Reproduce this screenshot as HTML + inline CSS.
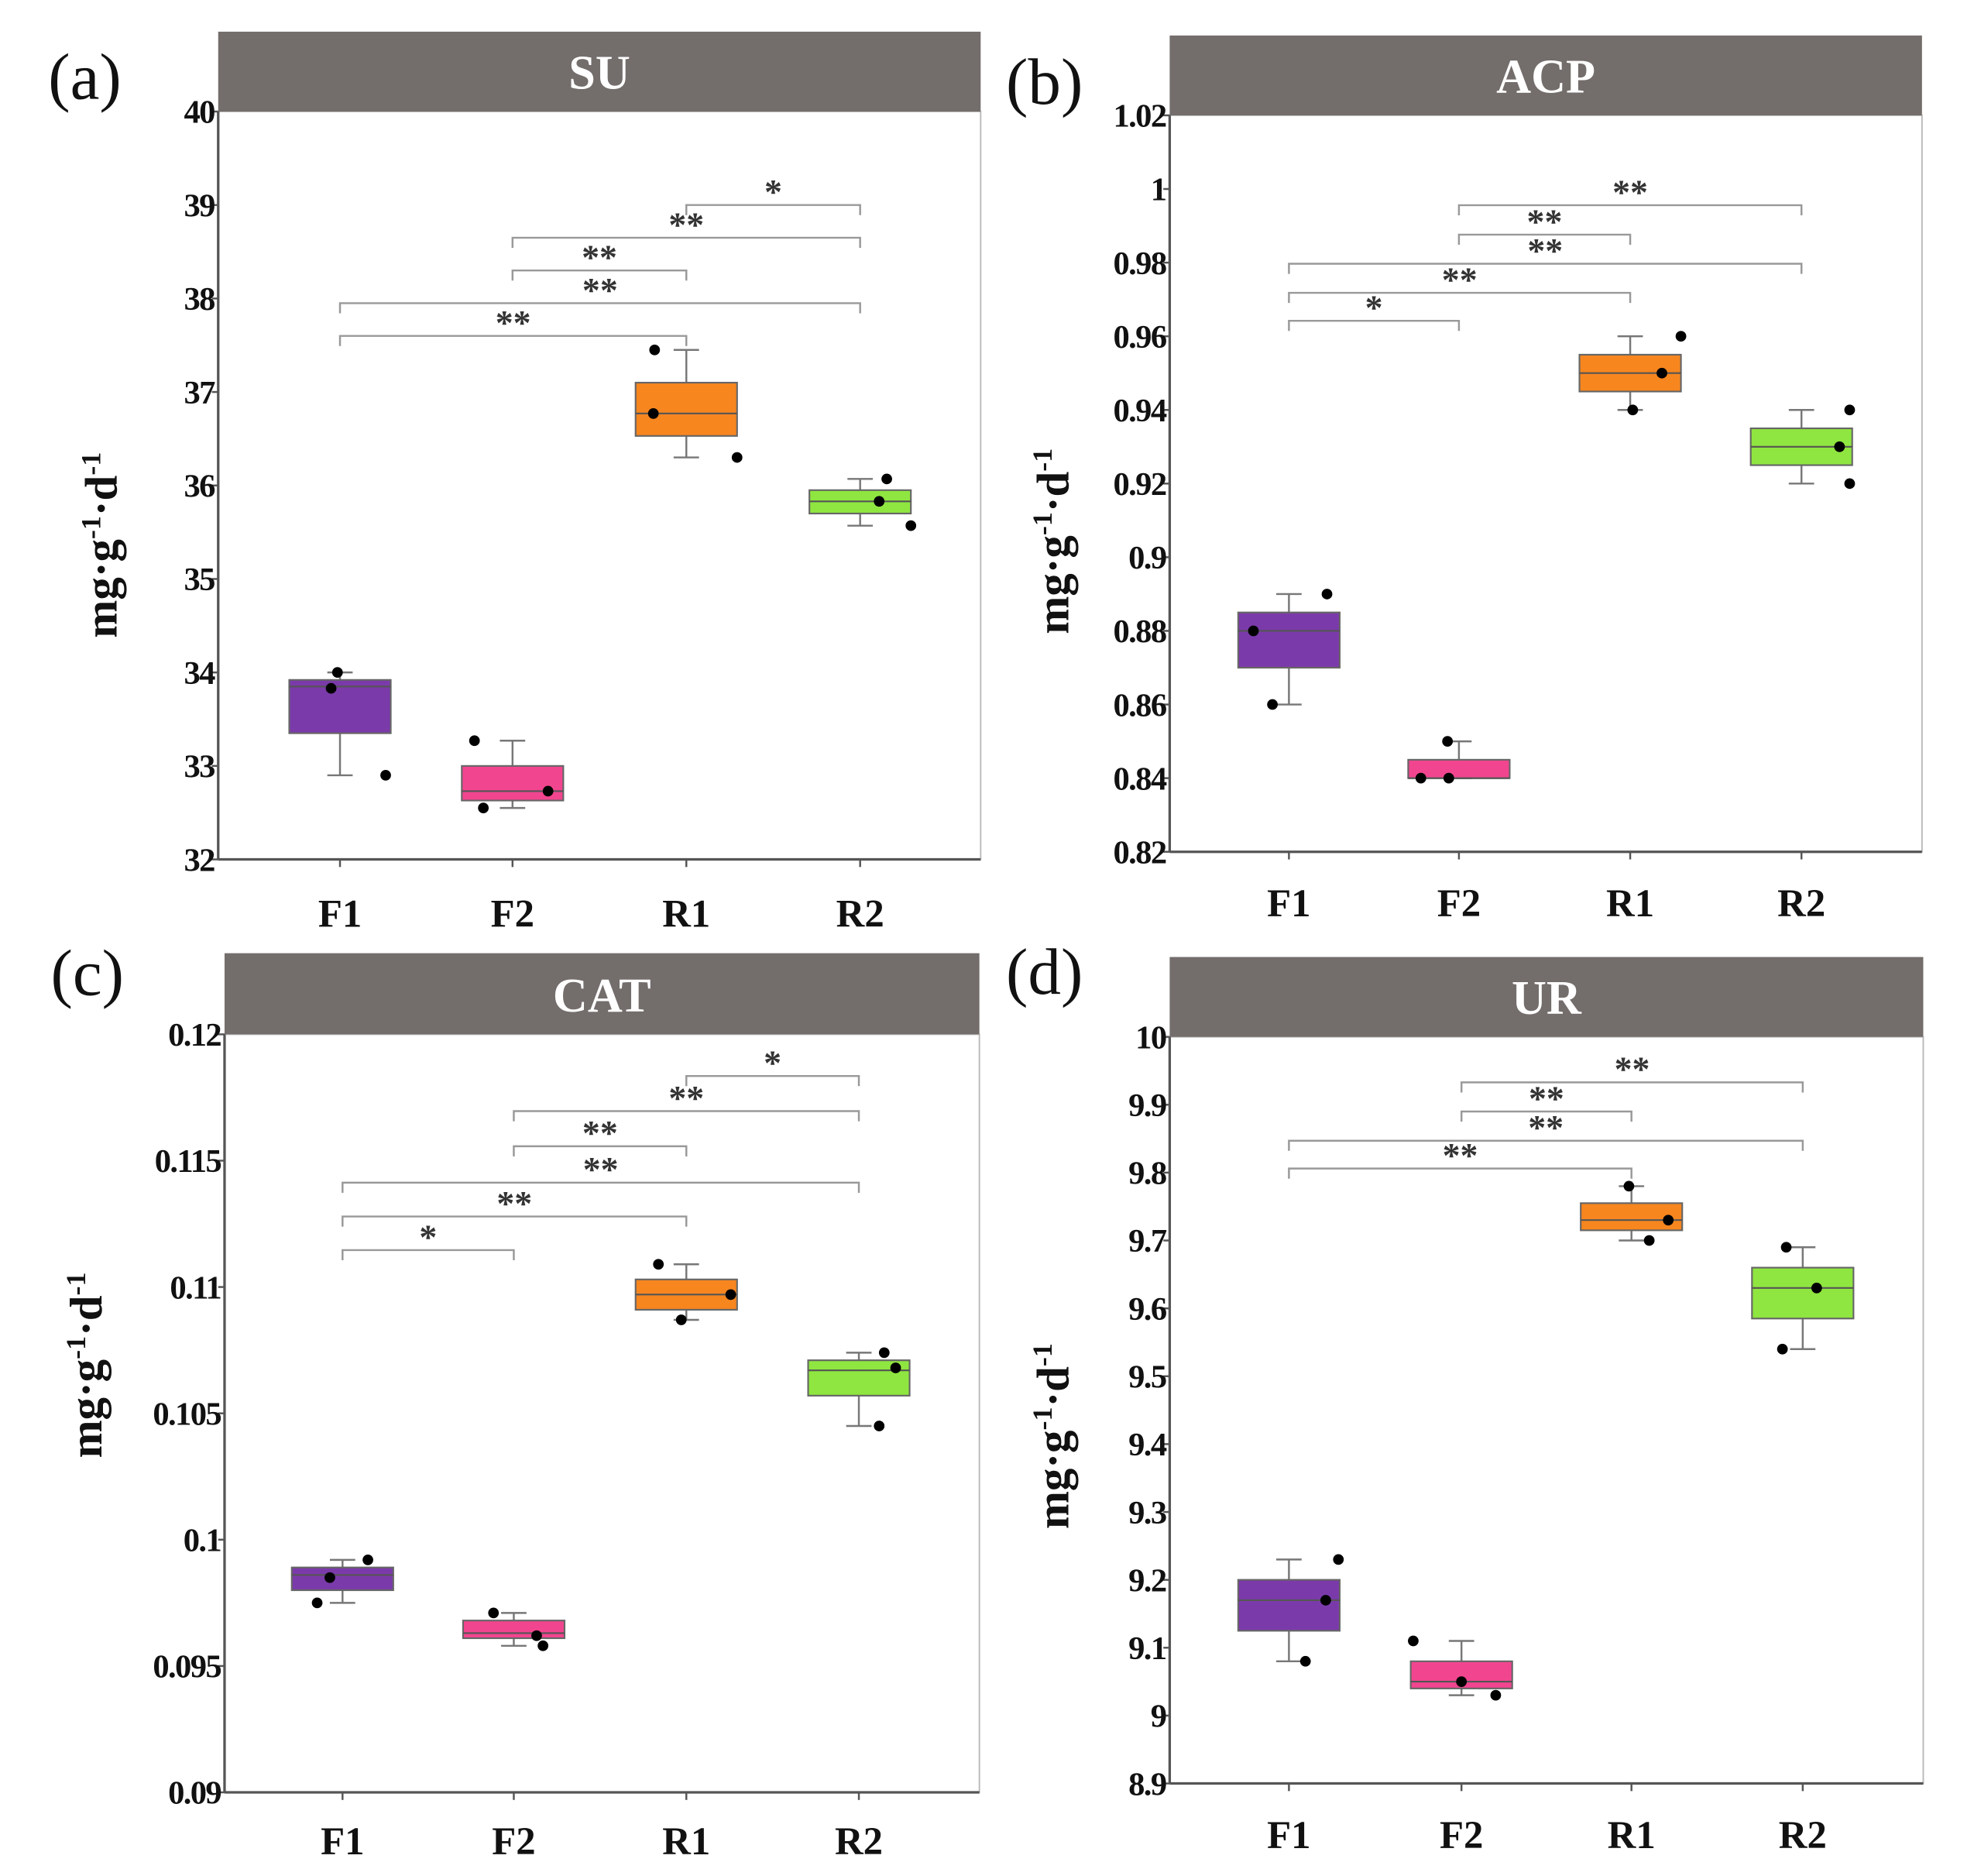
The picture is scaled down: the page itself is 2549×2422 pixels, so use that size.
<!DOCTYPE html>
<html><head><meta charset="utf-8"><style>
html,body{margin:0;padding:0;background:#fff;}
svg{display:block;}
text{font-family:"Liberation Serif","Times New Roman",serif;}
</style></head><body>
<svg id="fig" width="2549" height="2422" viewBox="0 0 1556 1480" preserveAspectRatio="none" xmlns="http://www.w3.org/2000/svg"></svg>
<script>
const categories = ["F1","F2","R1","R2"];
const colors = ["#7b3aaa","#f2458f","#f7861f","#8fe640"];

// SU
const suLow=[32.9,32.55,36.3,35.57], suQ1=[33.35,32.63,36.53,35.7], suMed=[33.85,32.73,36.77,35.83], suQ3=[33.92,33.0,37.1,35.95], suHigh=[34.0,33.27,37.45,36.07];
const suPoints=[[34.0,33.83,32.9],[33.27,32.73,32.55],[37.45,36.77,36.3],[36.07,35.83,35.57]];
const suTicks=[32,33,34,35,36,37,38,39,40];
const suSigFrom=[0,0,1,1,2], suSigTo=[2,3,2,3,3], suSigLevel=[37.6,37.95,38.3,38.65,39.0], suSigLabel=["**","**","**","**","*"];

// ACP
const acpLow=[0.86,0.84,0.94,0.92], acpQ1=[0.87,0.84,0.945,0.925], acpMed=[0.88,0.84,0.95,0.93], acpQ3=[0.885,0.845,0.955,0.935], acpHigh=[0.89,0.85,0.96,0.94];
const acpPoints=[[0.89,0.88,0.86],[0.85,0.84,0.84],[0.96,0.95,0.94],[0.94,0.93,0.92]];
const acpTicks=[0.82,0.84,0.86,0.88,0.9,0.92,0.94,0.96,0.98,1,1.02];
const acpSigFrom=[0,0,0,1,1], acpSigTo=[1,2,3,2,3], acpSigLevel=[0.9642,0.9718,0.9797,0.9876,0.9956], acpSigLabel=["*","**","**","**","**"];

// CAT
const catLow=[0.0975,0.0958,0.1087,0.1045], catQ1=[0.098,0.0961,0.1091,0.1057], catMed=[0.0986,0.0963,0.1097,0.1067], catQ3=[0.0989,0.0968,0.1103,0.1071], catHigh=[0.0992,0.0971,0.1109,0.1074];
const catPoints=[[0.0992,0.0985,0.0975],[0.0971,0.0962,0.0958],[0.1109,0.1097,0.1087],[0.1074,0.1068,0.1045]];
const catTicks=[0.09,0.095,0.1,0.105,0.11,0.115,0.12];
const catSigFrom=[0,0,0,1,1,2], catSigTo=[1,2,3,2,3,3], catSigLevel=[0.11146,0.11279,0.11413,0.11557,0.11696,0.11835], catSigLabel=["*","**","**","**","**","*"];

// UR
const urLow=[9.08,9.03,9.70,9.54], urQ1=[9.125,9.04,9.715,9.585], urMed=[9.17,9.05,9.73,9.63], urQ3=[9.2,9.08,9.755,9.66], urHigh=[9.23,9.11,9.78,9.69];
const urPoints=[[9.23,9.17,9.08],[9.11,9.05,9.03],[9.78,9.73,9.70],[9.69,9.63,9.54]];
const urTicks=[8.9,9,9.1,9.2,9.3,9.4,9.5,9.6,9.7,9.8,9.9,10];
const urSigFrom=[0,0,1,1], urSigTo=[2,3,2,3], urSigLevel=[9.806,9.847,9.890,9.933], urSigLabel=["**","**","**","**"];

const NS="http://www.w3.org/2000/svg";
const svg=document.getElementById('fig');
function mk(tag,attrs,parent){const e=document.createElementNS(NS,tag);for(const k in attrs)e.setAttribute(k,attrs[k]);(parent||svg).appendChild(e);return e;}

function panel(o){
  const g=mk('g',{});
  
  
  const y=v=>o.bot-(v-o.min)/(o.max-o.min)*(o.bot-o.top);
  const x=i=>o.cx[i];
  const fr=mk('rect',{x:o.left,y:o.top,width:o.right-o.left,height:o.bot-o.top,fill:'none',stroke:'#bbb','stroke-width':1.2},g);
  
  
  const hd=mk('rect',{x:o.left,y:o.htop,width:o.right-o.left,height:o.top-o.htop,fill:'#736d6b'},g);
  
  
  const ht=mk('text',{x:(o.left+o.right)/2,y:o.top-18,'text-anchor':'middle','font-size':38,'font-weight':'bold',fill:'#fff'},g);
  ht.textContent=o.title;
  
  
  const lt=mk('text',{x:o.lx,y:o.ly,'font-size':52,fill:'#111'},g);
  lt.textContent=o.letter;
  
  
  const ax=mk('line',{x1:o.left,y1:o.top,x2:o.left,y2:o.bot,stroke:'#555','stroke-width':2},g);
  
  
  const bx=mk('line',{x1:o.left,y1:o.bot,x2:o.right,y2:o.bot,stroke:'#555','stroke-width':2},g);
  
  
  o.ticks.forEach(t=>{
    const tk=mk('line',{x1:o.left-5,y1:y(t),x2:o.left,y2:y(t),stroke:'#555','stroke-width':1.5},g);
    
    
    const tl=mk('text',{x:o.left-3,y:y(t)+9,'text-anchor':'end','font-size':26,'font-weight':'bold',fill:'#111','letter-spacing':'-1'},g);
    tl.textContent=String(t);
    
    
  });
  categories.forEach((c,i)=>{
    const tk=mk('line',{x1:x(i),y1:o.bot,x2:x(i),y2:o.bot+6,stroke:'#555','stroke-width':1.5},g);
    
    
    const tl=mk('text',{x:x(i),y:o.xl,'text-anchor':'middle','font-size':31,'font-weight':'bold',fill:'#111'},g);
    tl.textContent=c;
    
    
  });
  const yt=mk('text',{transform:`translate(${o.yx},${o.yc}) rotate(-90)`,'text-anchor':'middle','font-size':36,'font-weight':'bold',fill:'#111'},g);
  yt.innerHTML='mg·g<tspan dy="-13" font-size="22">-1</tspan><tspan dy="13">·d</tspan><tspan dy="-13" font-size="22">-1</tspan>';
  
  
  const hw=40, cw=10;
  const jit=o.jit;
  categories.forEach((c,i)=>{
    const bg=mk('g',{},g);
    
    
    mk('line',{x1:x(i),y1:y(o.low[i]),x2:x(i),y2:y(o.q1[i]),stroke:'#777','stroke-width':1.5},bg);
    mk('line',{x1:x(i),y1:y(o.high[i]),x2:x(i),y2:y(o.q3[i]),stroke:'#777','stroke-width':1.5},bg);
    mk('line',{x1:x(i)-cw,y1:y(o.low[i]),x2:x(i)+cw,y2:y(o.low[i]),stroke:'#777','stroke-width':1.5},bg);
    mk('line',{x1:x(i)-cw,y1:y(o.high[i]),x2:x(i)+cw,y2:y(o.high[i]),stroke:'#777','stroke-width':1.5},bg);
    mk('rect',{x:x(i)-hw,y:y(o.q3[i]),width:2*hw,height:Math.max(1,y(o.q1[i])-y(o.q3[i])),fill:colors[i],stroke:'#666','stroke-width':1.3},bg);
    mk('line',{x1:x(i)-hw,y1:y(o.med[i]),x2:x(i)+hw,y2:y(o.med[i]),stroke:'#555','stroke-width':1.3},bg);
    o.points[i].forEach((p,j)=>{
      const d=mk('circle',{cx:x(i)+jit[i][j],cy:y(p),r:4.2,fill:'#000'},bg);
      
      
    });
  });
  o.sf.forEach((f,k)=>{
    const t=o.st[k], ly=y(o.sl[k]);
    const sg=mk('g',{},g);
    
    
    mk('path',{d:`M${x(f)},${ly+8} V${ly} H${x(t)} V${ly+8}`,fill:'none',stroke:'#999','stroke-width':1.5},sg);
    const st=mk('text',{x:(x(f)+x(t))/2,y:ly-1,'text-anchor':'middle','font-size':28,'font-weight':'bold',fill:'#333'},sg);
    st.textContent=o.slab[k];
  });
}

panel({key:'su',title:'SU',letter:'(a)',lx:38,ly:78,left:172,right:773,htop:25,top:88,bot:678,min:32,max:40,cx:[268,404,541,678],xl:731,yx:92,yc:430,ticks:suTicks,
  low:suLow,q1:suQ1,med:suMed,q3:suQ3,high:suHigh,points:suPoints,jit:[[-2,-7,36],[-30,28,-23],[-25,-26,40],[21,15,40]],
  sf:suSigFrom,st:suSigTo,sl:suSigLevel,slab:suSigLabel});
panel({key:'acp',title:'ACP',letter:'(b)',lx:793,ly:82,left:922,right:1515,htop:28,top:91,bot:672,min:0.82,max:1.02,cx:[1016,1150,1285,1420],xl:723,yx:842,yc:427,ticks:acpTicks,
  low:acpLow,q1:acpQ1,med:acpMed,q3:acpQ3,high:acpHigh,points:acpPoints,jit:[[30,-28,-13],[-9,-30,-8],[40,25,2],[38,30,38]],
  sf:acpSigFrom,st:acpSigTo,sl:acpSigLevel,slab:acpSigLabel});
panel({key:'cat',title:'CAT',letter:'(c)',lx:40,ly:785,left:177,right:772,htop:752,top:816,bot:1414,min:0.09,max:0.12,cx:[270,405,541,677],xl:1463,yx:80,yc:1077,ticks:catTicks,
  low:catLow,q1:catQ1,med:catMed,q3:catQ3,high:catHigh,points:catPoints,jit:[[20,-10,-20],[-16,18,23],[-22,35,-4],[20,29,16]],
  sf:catSigFrom,st:catSigTo,sl:catSigLevel,slab:catSigLabel});
panel({key:'ur',title:'UR',letter:'(d)',lx:793,ly:784,left:922,right:1516,htop:755,top:818,bot:1407,min:8.9,max:10,cx:[1016,1152,1286,1421],xl:1458,yx:842,yc:1133,ticks:urTicks,
  low:urLow,q1:urQ1,med:urMed,q3:urQ3,high:urHigh,points:urPoints,jit:[[39,29,13],[-38,0,27],[-2,29,14],[-13,11,-16]],
  sf:urSigFrom,st:urSigTo,sl:urSigLevel,slab:urSigLabel});
</script>
</body></html>
